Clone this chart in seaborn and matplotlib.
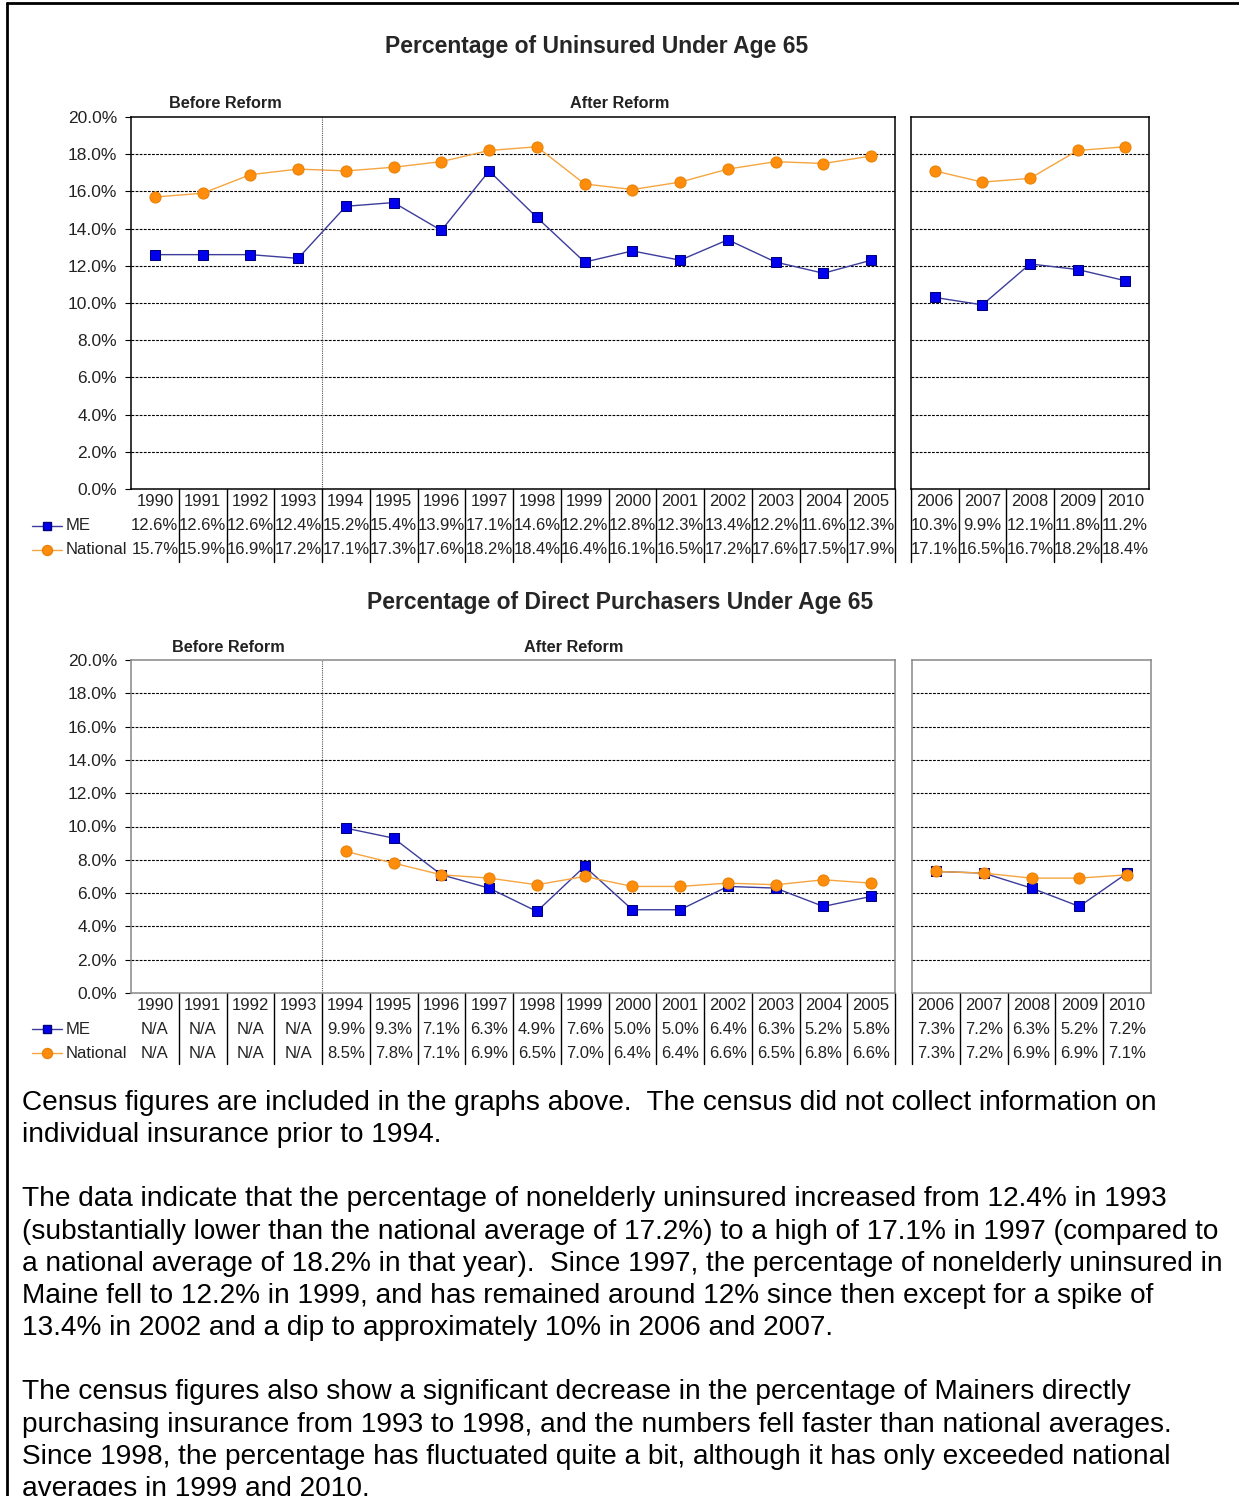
import numpy as np
import pandas as pd
import matplotlib
matplotlib.use("Agg")
import matplotlib.pyplot as plt
import seaborn as sns
from matplotlib.lines import Line2D
from matplotlib.transforms import blended_transform_factory

W, H = 1239, 1496

years_a = list(range(1990, 2006))
years_b = list(range(2006, 2011))
years = years_a + years_b

uninsured_me = [12.6, 12.6, 12.6, 12.4, 15.2, 15.4, 13.9, 17.1, 14.6, 12.2, 12.8, 12.3, 13.4, 12.2, 11.6, 12.3,
                10.3, 9.9, 12.1, 11.8, 11.2]
uninsured_nat = [15.7, 15.9, 16.9, 17.2, 17.1, 17.3, 17.6, 18.2, 18.4, 16.4, 16.1, 16.5, 17.2, 17.6, 17.5, 17.9,
                 17.1, 16.5, 16.7, 18.2, 18.4]
direct_me = [np.nan] * 4 + [9.9, 9.3, 7.1, 6.3, 4.9, 7.6, 5.0, 5.0, 6.4, 6.3, 5.2, 5.8,
                            7.3, 7.2, 6.3, 5.2, 7.2]
direct_nat = [np.nan] * 4 + [8.5, 7.8, 7.1, 6.9, 6.5, 7.0, 6.4, 6.4, 6.6, 6.5, 6.8, 6.6,
                             7.3, 7.2, 6.9, 6.9, 7.1]

series_names = ["ME", "National"]
titles = ["Percentage of Uninsured Under Age 65", "Percentage of Direct Purchasers Under Age 65"]

body_lines = [
    "Census figures are included in the graphs above.  The census did not collect information on",
    "individual insurance prior to 1994.",
    "",
    "The data indicate that the percentage of nonelderly uninsured increased from 12.4% in 1993",
    "(substantially lower than the national average of 17.2%) to a high of 17.1% in 1997 (compared to",
    "a national average of 18.2% in that year).  Since 1997, the percentage of nonelderly uninsured in",
    "Maine fell to 12.2% in 1999, and has remained around 12% since then except for a spike of",
    "13.4% in 2002 and a dip to approximately 10% in 2006 and 2007.",
    "",
    "The census figures also show a significant decrease in the percentage of Mainers directly",
    "purchasing insurance from 1993 to 1998, and the numbers fell faster than national averages.",
    "Since 1998, the percentage has fluctuated quite a bit, although it has only exceeded national",
    "averages in 1999 and 2010.",
]

sns.set_theme(style="white")
plt.rcParams["font.family"] = ["Liberation Sans", "DejaVu Sans"]

ME_LINE = "#3c3c9c"
ME_FACE = "#0000ee"
ME_EDGE = "#00007a"
NAT_LINE = "#f5a540"
NAT_FACE = "#ff8c0a"
NAT_EDGE = "#e8820a"

styles = {
    "ME": dict(color=ME_LINE, marker="s", markersize=7, markerfacecolor=ME_FACE, markeredgecolor=ME_EDGE),
    "National": dict(color=NAT_LINE, marker="o", markersize=8, markerfacecolor=NAT_FACE, markeredgecolor=NAT_EDGE),
}

fig = plt.figure(figsize=(W / 100, H / 100), dpi=100)


def px_axes(x0, y0, x1, y1):
    return fig.add_axes([x0 / W, 1 - y1 / H, (x1 - x0) / W, (y1 - y0) / H])


def fmt(v):
    return "N/A" if np.isnan(v) else f"{v:.1f}%"


def draw_panel(me, nat, top, bottom, main_x, side_x, table_bottom, row_y, frame_color):
    df = pd.DataFrame({"year": years, "ME": me, "National": nat})
    long = df.melt(id_vars="year", var_name="series", value_name="pct").dropna()
    ax = px_axes(main_x[0], top, main_x[1], bottom)
    ax2 = px_axes(side_x[0], top, side_x[1], bottom)
    span = bottom - top
    for a, yrs in [(ax, years_a), (ax2, years_b)]:
        part = long[long["year"].isin(yrs)]
        for name in series_names:
            d = part[part["series"] == name]
            if len(d):
                sns.lineplot(data=d, x="year", y="pct", ax=a, linewidth=1.0, legend=False, **styles[name])
        a.set_xlim(yrs[0] - 0.5, yrs[-1] + 0.5)
        a.set_ylim(0, 20)
        a.set_xlabel("")
        a.set_ylabel("")
        a.set_xticks([])
        for g in range(2, 20, 2):
            a.axhline(g, color="black", linestyle=(0, (2.5, 1.2)), linewidth=0.8, zorder=0)
        for s in a.spines.values():
            s.set_color(frame_color)
            s.set_linewidth(1.1)
        # table grid lines below the axes
        tr = blended_transform_factory(a.transData, a.transAxes)
        low = -(table_bottom - bottom) / span
        for b in yrs[:-1]:
            a.add_line(Line2D([b + 0.5, b + 0.5], [0, low], transform=tr, color="black",
                              linewidth=1.0, clip_on=False))
        # table text
        for y in yrs:
            idx = years.index(y)
            for txt, yp in [(str(y), row_y[0]), (fmt(me[idx]), row_y[1]), (fmt(nat[idx]), row_y[2])]:
                a.text(y, (bottom - yp) / span, txt, transform=tr, ha="center", va="center",
                       fontsize=12, color="#222222")
    # edges of the two plot areas extend into the table
    low = -(table_bottom - bottom) / span
    ax.add_line(Line2D([1, 1], [0, low], transform=ax.transAxes, color="black", linewidth=1.0, clip_on=False))
    ax2.add_line(Line2D([0, 0], [0, low], transform=ax2.transAxes, color="black", linewidth=1.0, clip_on=False))
    ax.axvline(1993.5, color="#555555", linestyle=(0, (1, 1)), linewidth=0.8)
    ax.set_yticks(range(0, 21, 2))
    ax.set_yticklabels([f"{t:.1f}%" for t in range(0, 21, 2)], fontsize=12.5, color="#222222")
    ax.tick_params(axis="y", left=True, length=4, width=0.8, color="black", pad=6)
    ax2.set_yticks([])
    # legend keys in the table
    for name, yp in zip(series_names, row_y[1:]):
        st = styles[name]
        fy = 1 - yp / H
        fig.add_artist(Line2D([32 / W, 47 / W, 62 / W], [fy, fy, fy], transform=fig.transFigure,
                              color=st["color"], linewidth=1.0, marker=st["marker"], markevery=[1],
                              markersize=st["markersize"] * 0.9, markerfacecolor=st["markerfacecolor"],
                              markeredgecolor=st["markeredgecolor"]))
        fig.text(66 / W, fy, name, ha="left", va="center", fontsize=12, color="#222222")
    return ax, ax2


draw_panel(uninsured_me, uninsured_nat, 117, 489, (131, 895), (911, 1149), 562, (502, 526, 550), "black")
draw_panel(direct_me, direct_nat, 660, 993, (131, 895), (912, 1151), 1064, (1006, 1029, 1053), "#888888")

fig.text(597 / W, 1 - 46 / H, titles[0], ha="center", va="center", fontsize=16.5, fontweight="bold")
fig.text(620 / W, 1 - 603 / H, titles[1], ha="center", va="center", fontsize=16.5, fontweight="bold")

for x, y, s in [(225, 103, "Before Reform"), (620, 104, "After Reform"),
                (228, 647, "Before Reform"), (574, 647, "After Reform")]:
    fig.text(x / W, 1 - y / H, s, ha="center", va="center", fontsize=11.7, fontweight="bold", color="#222222")

for i, line in enumerate(body_lines):
    if line:
        fig.text(22 / W, 1 - (1110 + i * 32.15) / H, line, ha="left", va="baseline", fontsize=20.2, color="black")

# page frame (left and top edges)
fig.add_artist(Line2D([7 / W, 7 / W], [0, 1 - 3 / H], transform=fig.transFigure, color="black", linewidth=2))
fig.add_artist(Line2D([7 / W, 1], [1 - 3 / H, 1 - 3 / H], transform=fig.transFigure, color="black", linewidth=2))

fig.savefig("out.png", dpi=100)
